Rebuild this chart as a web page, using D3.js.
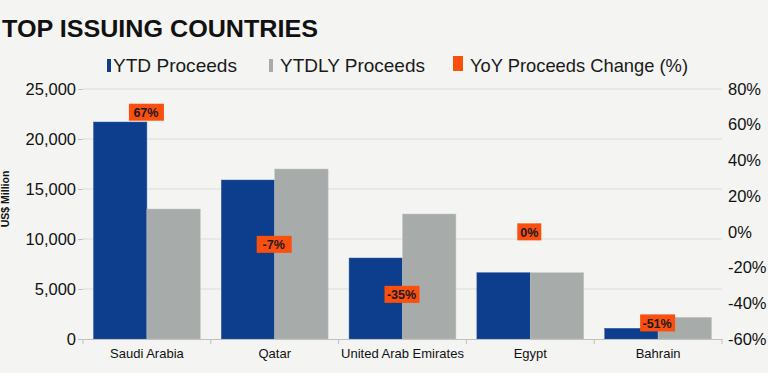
<html>
<head>
<style>
  body { margin: 0; background: #f4f4f2; }
  svg { display: block; font-family: "Liberation Sans", Arial, sans-serif; }
</style>
</head>
<body>
<div id="chart"><svg></svg></div>
<script src="https://d3js.org/d3.v7.min.js"></script>
<script>
var countries = ["Saudi Arabia", "Qatar", "United Arab Emirates", "Egypt", "Bahrain"]
var ytdProceeds = [21700, 15900, 8100, 6630, 1070]
var ytdlyProceeds = [13000, 17000, 12500, 6630, 2170]
var yoyChange = [67, -7, -35, 0, -51]
var leftTicks = [0, 5000, 10000, 15000, 20000, 25000]
var rightTicks = [-60, -40, -20, 0, 20, 40, 60, 80]

var screen = {width: 768, height: 373}
var plot = {left: 83, right: 722, top: 89, bottom: 339}

var svg = d3.select("#chart svg")
            .attr("width", screen.width)
            .attr("height", screen.height)

svg.append("rect").attr("width", screen.width).attr("height", screen.height).attr("fill", "#f4f4f2")

var xScale = d3.scaleBand()
               .domain(countries)
               .range([plot.left, plot.right])
               .paddingInner(0.164)
               .paddingOuter(0.082)
var subScale = d3.scaleBand()
                 .domain(["ytd", "ytdly"])
                 .range([0, xScale.bandwidth()])
var yScale = d3.scaleLinear().domain([0, 25000]).range([plot.bottom, plot.top])
var pctScale = d3.scaleLinear().domain([-60, 80]).range([plot.bottom, plot.top])

// gridlines
svg.append("g")
   .selectAll("line")
   .data(leftTicks.slice(1))
   .enter()
   .append("line")
   .attr("x1", plot.left).attr("x2", plot.right)
   .attr("y1", function(d){return yScale(d)}).attr("y2", function(d){return yScale(d)})
   .attr("stroke", "#dcdedb").attr("stroke-width", 1)

// left axis
var leftAxis = svg.append("g")
   .attr("transform", "translate(" + plot.left + ",0)")
   .call(d3.axisLeft(yScale).tickValues(leftTicks).tickFormat(d3.format(",")).tickSize(5).tickPadding(1))
leftAxis.select(".domain").remove()
leftAxis.selectAll("line").attr("stroke", "#bfc1bf")
leftAxis.selectAll("text").attr("font-size", 16.5).attr("fill", "#111").attr("dx", -1)

// right axis
var rightAxis = svg.append("g")
   .attr("transform", "translate(" + plot.right + ",0)")
   .call(d3.axisRight(pctScale).tickValues(rightTicks).tickFormat(function(d){return d + "%"}).tickSize(0).tickPadding(6))
rightAxis.select(".domain").remove()
rightAxis.selectAll("text").attr("font-size", 16.5).attr("fill", "#111")

// bars
var groups = svg.append("g")
   .selectAll("g")
   .data(countries)
   .enter()
   .append("g")
   .attr("transform", function(c){return "translate(" + xScale(c) + ",0)"})

groups.append("rect")
   .attr("x", subScale("ytd"))
   .attr("width", subScale.bandwidth())
   .attr("y", function(c, i){return yScale(ytdProceeds[i])})
   .attr("height", function(c, i){return yScale(0) - yScale(ytdProceeds[i])})
   .attr("fill", "#0c3e8d")
   .attr("stroke", "#3a5fa3").attr("stroke-width", 0.5)

groups.append("rect")
   .attr("x", subScale("ytdly"))
   .attr("width", subScale.bandwidth())
   .attr("y", function(c, i){return yScale(ytdlyProceeds[i])})
   .attr("height", function(c, i){return yScale(0) - yScale(ytdlyProceeds[i])})
   .attr("fill", "#a7abaa")
   .attr("stroke", "#c3c6c5").attr("stroke-width", 0.5)

// bottom axis
var bottomAxis = svg.append("g")
   .attr("transform", "translate(0," + plot.bottom + ")")
   .call(d3.axisBottom(xScale).tickSize(0).tickPadding(10))
bottomAxis.select(".domain").attr("stroke", "#bfc1bf")
bottomAxis.selectAll("text").attr("font-size", 13).attr("fill", "#111")
svg.append("g")
   .selectAll("line")
   .data(d3.range(countries.length + 1))
   .enter()
   .append("line")
   .attr("x1", function(i){return plot.left + i * xScale.step()})
   .attr("x2", function(i){return plot.left + i * xScale.step()})
   .attr("y1", plot.bottom).attr("y2", plot.bottom + 5)
   .attr("stroke", "#bfc1bf")

// YoY labels
var labels = svg.append("g")
   .selectAll("g")
   .data(countries)
   .enter()
   .append("g")
   .attr("transform", function(c, i){return "translate(" + (xScale(c) + xScale.bandwidth() / 2 - 1) + "," + pctScale(yoyChange[i]) + ")"})
labels.append("rect")
   .attr("x", function(c, i){return yoyChange[i] === 0 ? -12 : -17})
   .attr("width", function(c, i){return yoyChange[i] === 0 ? 24 : 35})
   .attr("y", -8.5).attr("height", 17)
   .attr("fill", "#fb4f0d")
labels.append("text")
   .attr("text-anchor", "middle")
   .attr("y", 5)
   .attr("font-size", 12.5)
   .attr("font-weight", "bold")
   .attr("fill", "#1a1a1a")
   .text(function(c, i){return yoyChange[i] + "%"})

// y axis title
svg.append("text")
   .attr("transform", "translate(9,199) rotate(-90)")
   .attr("text-anchor", "middle")
   .attr("font-size", 10.5)
   .attr("font-weight", "bold")
   .attr("fill", "#111")
   .text("US$ Million")

// title
svg.append("text")
   .attr("x", 2).attr("y", 37)
   .attr("font-size", 23.5)
   .attr("font-weight", "bold")
   .attr("fill", "#111")
   .attr("textLength", 316)
   .attr("lengthAdjust", "spacingAndGlyphs")
   .text("TOP ISSUING COUNTRIES")

// legend
var legendItems = [
    {name: "YTD Proceeds", color: "#0c3e8d", x: 107, w: 4, tx: 113, tw: 124},
    {name: "YTDLY Proceeds", color: "#a7abaa", x: 269, w: 4, tx: 280, tw: 145},
    {name: "YoY Proceeds Change (%)", color: "#fb4f0d", x: 453, w: 10, tx: 470, tw: 218}
]
var legend = svg.append("g")
   .selectAll("g")
   .data(legendItems)
   .enter()
   .append("g")
legend.append("rect")
   .attr("x", function(d){return d.x})
   .attr("width", function(d){return d.w})
   .attr("y", function(d){return d.w > 5 ? 56 : 59})
   .attr("height", function(d){return d.w > 5 ? 15 : 13})
   .attr("fill", function(d){return d.color})
legend.append("text")
   .attr("x", function(d){return d.tx})
   .attr("y", 72)
   .attr("font-size", 19)
   .attr("fill", "#1a1a1a")
   .attr("textLength", function(d){return d.tw})
   .attr("lengthAdjust", "spacingAndGlyphs")
   .text(function(d){return d.name})
</script>
</body>
</html>
